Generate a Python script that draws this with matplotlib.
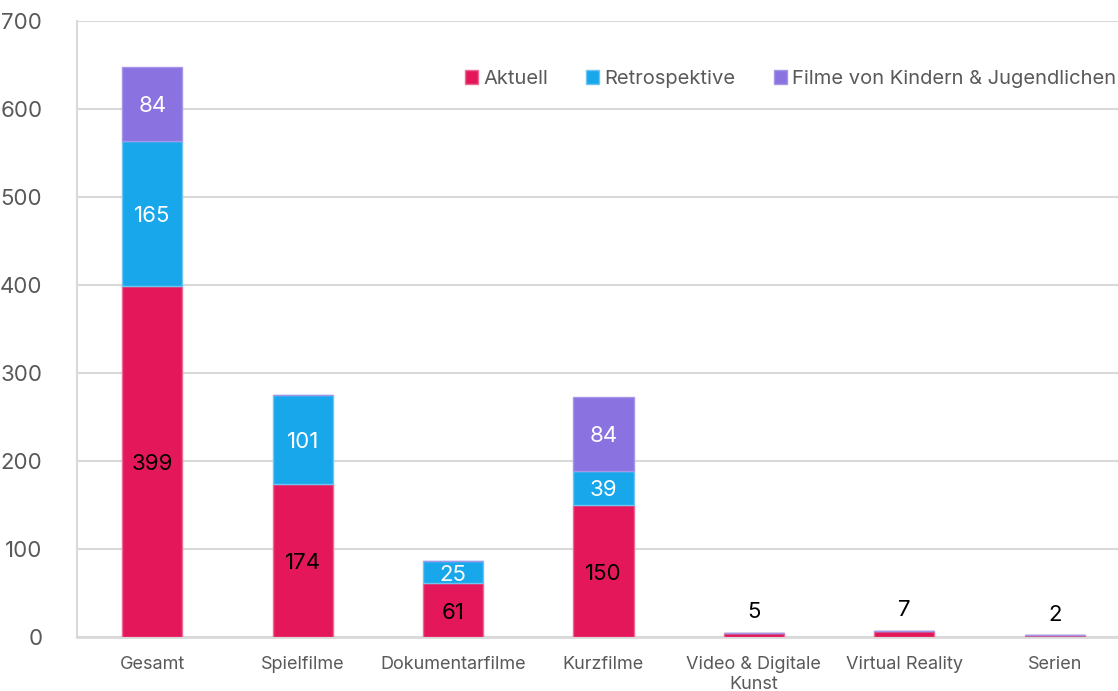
import matplotlib
matplotlib.use("Agg")
import matplotlib.pyplot as plt
import numpy as np

categories = ["Gesamt", "Spielfilme", "Dokumentarfilme", "Kurzfilme",
              "Video & Digitale\nKunst", "Virtual Reality", "Serien"]
aktuell = [399, 174, 61, 150, 5, 7, 2]
retrospektive = [165, 101, 25, 39, 0, 0, 0]
kinder = [84, 0, 0, 84, 0, 0, 0]
series_names = ["Aktuell", "Retrospektive", "Filme von Kindern & Jugendlichen"]
yticks = [0, 100, 200, 300, 400, 500, 600, 700]

plt.rcParams['font.family'] = ['Inter', 'DejaVu Sans']

W, H = 1118, 691
fig = plt.figure(figsize=(W / 100, H / 100), dpi=100)
ax_left, ax_right = 77, 1130
ax_top, ax_bottom = 21, 637
ax = fig.add_axes([ax_left / W, (H - ax_bottom) / H,
                   (ax_right - ax_left) / W, (ax_bottom - ax_top) / H])

x = np.arange(len(categories))
bw = 0.4
c_akt, c_ret, c_kin = "#E5175B", "#18A7EB", "#8A72E0"
e_akt, e_ret, e_kin = "#EC6A93", "#6CC6F1", "#A795E8"

b1 = ax.bar(x, aktuell, bw, color=c_akt, edgecolor=e_akt, linewidth=1,
            label=series_names[0], zorder=3)
bottom2 = np.array(aktuell)
b2 = ax.bar(x, retrospektive, bw, bottom=bottom2, color=c_ret, edgecolor=e_ret,
            linewidth=1, label=series_names[1], zorder=3)
bottom3 = bottom2 + np.array(retrospektive)
b3 = ax.bar(x, kinder, bw, bottom=bottom3, color=c_kin, edgecolor=e_kin,
            linewidth=1, label=series_names[2], zorder=3)

fs_lab = 16
for i, v in enumerate(aktuell):
    if v >= 30:
        ax.text(x[i], v / 2 - 3, str(v), ha="center", va="center",
                fontsize=fs_lab, color="black", zorder=4)
    else:
        ax.text(x[i], v + 12, str(v), ha="center", va="bottom",
                fontsize=fs_lab, color="black", zorder=4)
for i, v in enumerate(retrospektive):
    if v > 0:
        ax.text(x[i], bottom2[i] + v / 2 - 3, str(v), ha="center", va="center",
                fontsize=fs_lab, color="white", zorder=4)
for i, v in enumerate(kinder):
    if v > 0:
        ax.text(x[i], bottom3[i] + v / 2 - 3, str(v), ha="center", va="center",
                fontsize=fs_lab, color="white", zorder=4)

ax.set_xlim(-0.5, len(categories) - 0.5)
ax.set_ylim(0, 700)
ax.set_yticks(yticks)
ax.set_yticklabels([str(t) for t in yticks])
ax.set_xticks(x)
ax.set_xticklabels(categories)
ax.tick_params(axis="y", length=0, pad=25, labelsize=16, labelcolor="#595959")
ax.tick_params(axis="x", length=0, pad=14, labelsize=13, labelcolor="#595959")
for lbl in ax.get_xticklabels():
    lbl.set_linespacing(1.2)

ax.grid(axis="y", color="#D9D9D9", linewidth=1.5, zorder=0)
ax.set_axisbelow(True)
for s in ["top", "right"]:
    ax.spines[s].set_visible(False)
ax.spines["left"].set_color("#D9D9D9")
ax.spines["left"].set_linewidth(1.5)
ax.spines["bottom"].set_color("#D9D9D9")
ax.spines["bottom"].set_linewidth(2)

leg = fig.legend(handles=[b1, b2, b3], loc="center right",
                 bbox_to_anchor=(1116 / W, (H - 79) / H), ncol=3, frameon=False,
                 fontsize=14.5, handlelength=0.65, handleheight=0.65,
                 handletextpad=0.25, columnspacing=1.9, labelcolor="#595959",
                 borderaxespad=0, borderpad=0)

fig.savefig("out.png", dpi=100)
